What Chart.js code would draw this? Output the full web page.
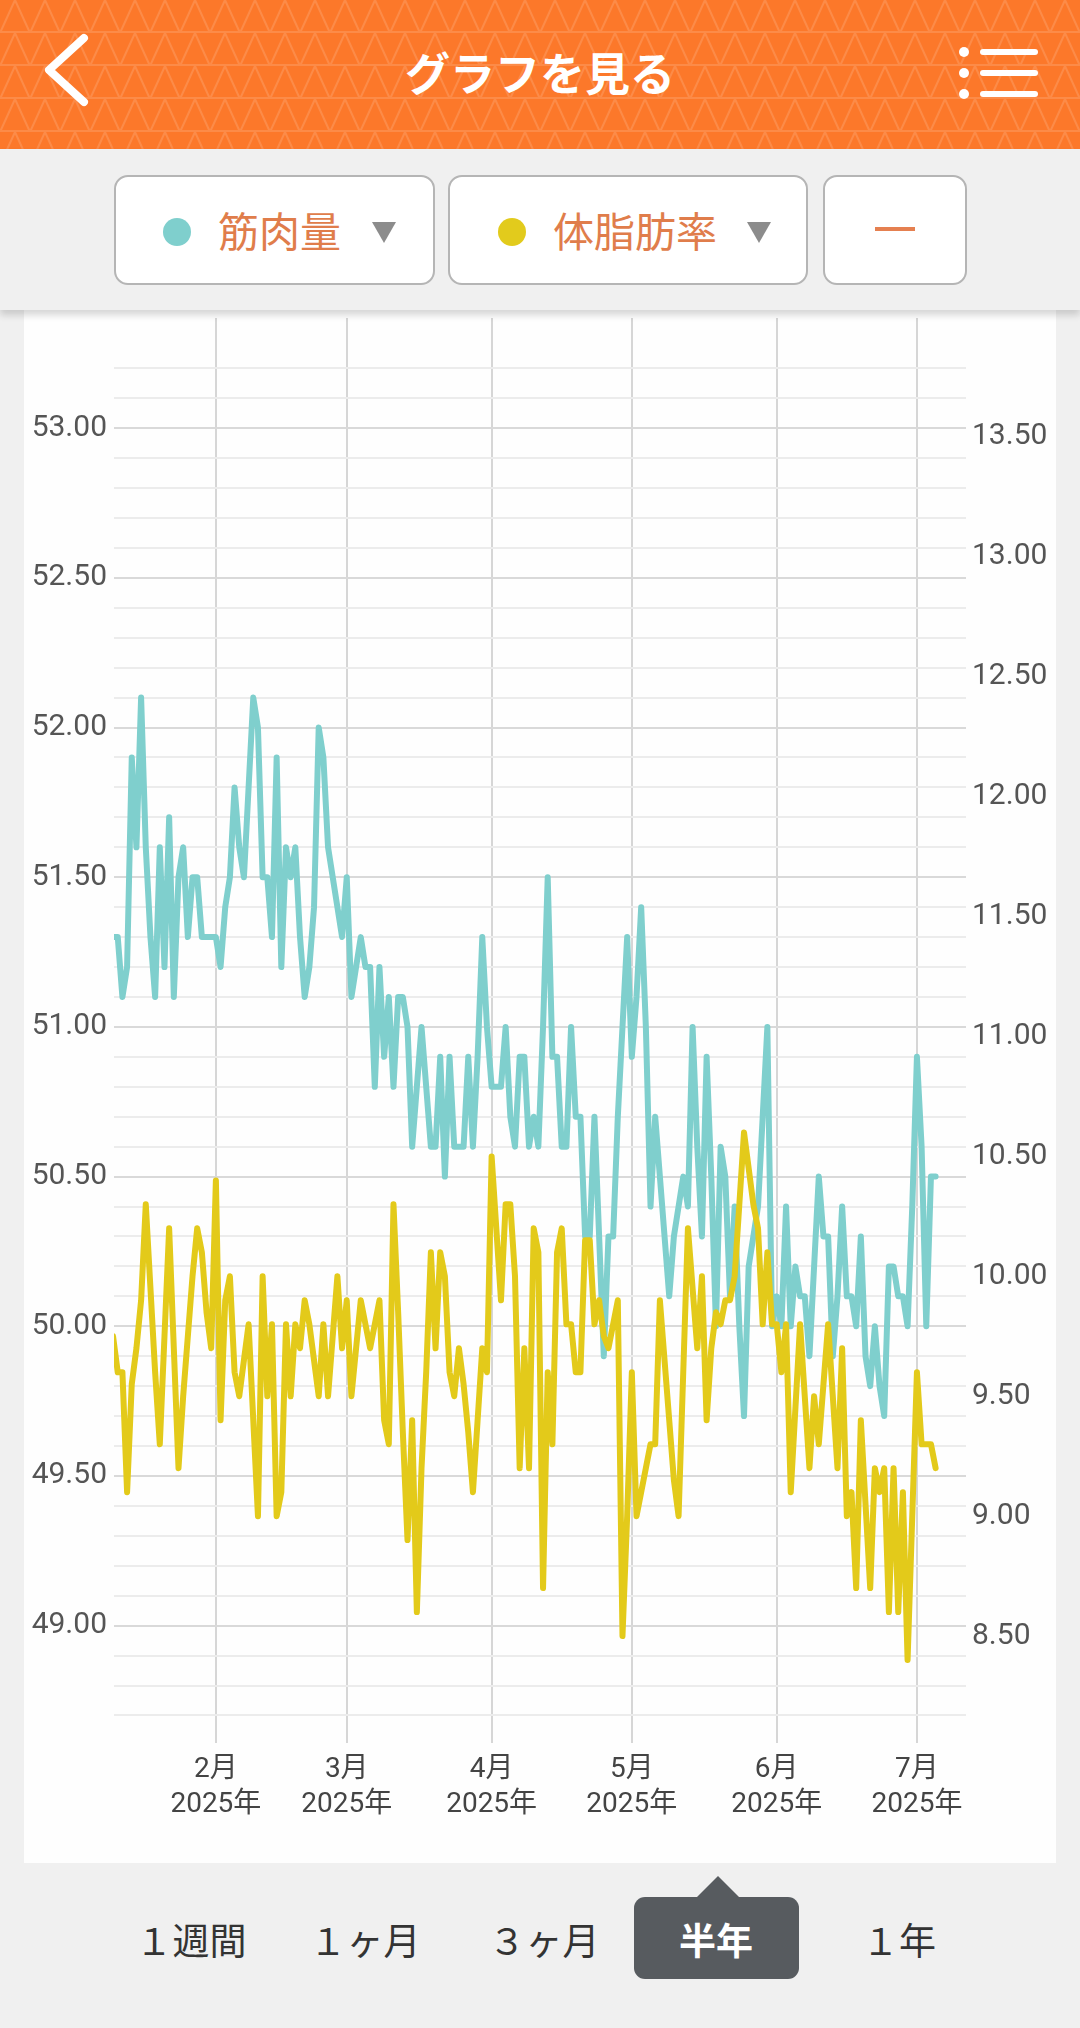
<!DOCTYPE html>
<html lang="ja">
<head>
<meta charset="utf-8">
<title>グラフを見る</title>
<script src="https://cdn.jsdelivr.net/npm/chart.js@4.4.1/dist/chart.umd.min.js"></script>
<style>
  html, body { margin: 0; padding: 0; }
  body {
    width: 1080px; height: 2028px; position: relative; overflow: hidden;
    background: #f0f0f0;
    font-family: "Noto Sans CJK JP", "Noto Sans", sans-serif;
  }
  .header {
    position: absolute; left: 0; top: 0; width: 1080px; height: 149px;
    background-color: #fc782a;
    background-image: url("data:image/svg+xml;utf8,<svg xmlns='http://www.w3.org/2000/svg' width='30' height='33'><path d='M0 33L15 0L30 33M0 32H30' fill='none' stroke='%23ffffff' stroke-opacity='0.14' stroke-width='2'/></svg>");
  }
  .title {
    position: absolute; left: 0; width: 1080px; top: 40px; text-align: center;
    color: #fff; font-size: 45px; font-weight: 700; line-height: 64px;
  }
  .back { position: absolute; left: 40px; top: 32px; }
  .menu { position: absolute; left: 955px; top: 44px; }
  .band {
    position: absolute; left: 0; top: 149px; width: 1080px; height: 161px;
    background: #f0f0f0; box-shadow: 0 5px 7px rgba(0,0,0,0.16); z-index: 2;
  }
  .btn {
    position: absolute; top: 175px; height: 110px; background: #fff;
    border: 2.5px solid #b5b5b5; border-radius: 14px; box-sizing: border-box; z-index: 3;
  }
  .dot { position: absolute; width: 28px; height: 28px; border-radius: 50%; top: 41px; }
  .lbl { position: absolute; top: 22px; font-size: 41px; line-height: 60px; color: #e07d4b; }
  .tri {
    position: absolute; top: 45px; width: 0; height: 0;
    border-left: 12px solid transparent; border-right: 12px solid transparent;
    border-top: 21px solid #8c8c8c;
  }
  .card {
    position: absolute; left: 24px; top: 310px; width: 1032px; height: 1553px; background: #fefefe;
  }
  #chart { position: absolute; left: 0; top: 0; }
  .tab {
    position: absolute; top: 1911px; font-size: 37px; line-height: 56px; color: #333;
    transform: translateX(-50%); white-space: nowrap;
  }
  .sel {
    position: absolute; left: 634px; top: 1897px; width: 165px; height: 82px;
    background: #575b5f; border-radius: 11px;
  }
  .pointer {
    position: absolute; left: 696px; top: 1876px; width: 0; height: 0;
    border-left: 22px solid transparent; border-right: 22px solid transparent;
    border-bottom: 22px solid #575b5f;
  }
</style>
</head>
<body>
<div class="header">
  <svg class="back" width="60" height="80" viewBox="0 0 60 80">
    <polyline points="44,6 9,38 44,70" fill="none" stroke="#fff" stroke-width="8" stroke-linecap="round" stroke-linejoin="round"/>
  </svg>
  <div class="title">グラフを見る</div>
  <svg class="menu" width="90" height="60" viewBox="0 0 90 60">
    <circle cx="9" cy="8" r="5" fill="#fff"/>
    <circle cx="9" cy="29" r="5" fill="#fff"/>
    <circle cx="9" cy="50" r="5" fill="#fff"/>
    <line x1="28" y1="8" x2="80" y2="8" stroke="#fff" stroke-width="6" stroke-linecap="round"/>
    <line x1="28" y1="29" x2="80" y2="29" stroke="#fff" stroke-width="6" stroke-linecap="round"/>
    <line x1="28" y1="50" x2="80" y2="50" stroke="#fff" stroke-width="6" stroke-linecap="round"/>
  </svg>
</div>
<div class="band"></div>
<div class="btn" style="left:114px;width:321px;">
  <div class="dot" style="left:47px;background:#7fcfcd;"></div>
  <div class="lbl" style="left:102px;">筋肉量</div>
  <div class="tri" style="left:256px;"></div>
</div>
<div class="btn" style="left:448px;width:360px;">
  <div class="dot" style="left:48px;background:#e2cb1c;"></div>
  <div class="lbl" style="left:103px;">体脂肪率</div>
  <div class="tri" style="left:297px;"></div>
</div>
<div class="btn" style="left:823px;width:144px;">
  <div style="position:absolute;left:50px;top:50px;width:40px;height:4px;background:#e58050;"></div>
</div>

<div class="card"><canvas id="chart" width="1032" height="1553"></canvas></div>

<div class="pointer"></div>
<div class="sel"></div>
<div class="tab" style="left:191px;">１週間</div>
<div class="tab" style="left:365px;">１ヶ月</div>
<div class="tab" style="left:544px;">３ヶ月</div>
<div class="tab" style="left:716px;color:#fff;font-weight:700;">半年</div>
<div class="tab" style="left:899px;">１年</div>

<script>
// day index of first reading (0 = Jan 1, 2025), one reading per day, null = no reading
const firstDay = 9;

const muscle = [
  51.3, 51.3, 51.1, 51.2, 51.9, 51.6, 52.1, 51.6, 51.3, 51.1,
  51.6, 51.2, 51.7, 51.1, 51.5, 51.6, 51.3, 51.5, 51.5, 51.3,
  51.3, 51.3, 51.3, 51.2, 51.4, 51.5, 51.8, 51.6, 51.5, 51.8,
  52.1, 52.0, 51.5, 51.5, 51.3, 51.9, 51.2, 51.6, 51.5, 51.6,
  51.3, 51.1, 51.2, 51.4, 52.0, 51.9, 51.6, 51.5, 51.4, 51.3,
  51.5, 51.1, 51.2, 51.3, 51.2, 51.2, 50.8, 51.2, 50.9, 51.1,
  50.8, 51.1, 51.1, 51.0, 50.6, 50.8, 51.0, 50.8, 50.6, 50.6,
  50.9, 50.5, 50.9, 50.6, 50.6, 50.6, 50.9, 50.6, 50.9, 51.3,
  51.0, 50.8, 50.8, 50.8, 51.0, 50.7, 50.6, 50.9, 50.9, 50.6,
  50.7, 50.6, 51.0, 51.5, 50.9, 50.9, 50.6, 50.6, 51.0, 50.7,
  50.7, 50.3, 50.3, 50.7, null, 49.9, 50.3, 50.3, 50.7, 51.0,
  51.3, 50.9, 51.1, 51.4, 51.0, 50.4, 50.7, 50.5, 50.3, 50.1,
  50.3, null, 50.5, 50.4, 51.0, 50.6, 50.3, 50.9, 50.5, 50.0,
  50.6, 50.5, 50.1, 50.4, 50.0, 49.7, 50.2, 50.3, 50.4, 50.7,
  51.0, 50.0, 50.1, 50.0, 50.4, 50.0, 50.2, 50.1, 50.1, 49.9,
  50.2, 50.5, 50.3, 50.3, 49.9, 50.1, 50.4, 50.1, 50.1, 50.0,
  50.3, 49.9, 49.8, 50.0, 49.8, 49.7, 50.2, 50.2, 50.1, 50.1,
  50.0, 50.4, 50.9, 50.6, 50.0, 50.5, 50.5
];

const fatRate = [
  9.75, 9.6, 9.6, 9.1, 9.55, 9.7, 9.9, 10.3, 9.95, 9.6,
  9.3, 9.75, 10.2, 9.7, 9.2, 9.5, 9.75, 10.0, 10.2, 10.1,
  9.85, 9.7, 10.4, 9.4, 9.9, 10.0, 9.6, 9.5, 9.65, 9.8,
  9.4, 9.0, 10.0, 9.5, 9.8, 9.0, 9.1, 9.8, 9.5, 9.8,
  9.7, 9.9, 9.8, 9.65, 9.5, 9.8, 9.5, 9.75, 10.0, 9.7,
  9.9, 9.5, 9.7, 9.9, 9.8, 9.7, 9.8, 9.9, 9.4, 9.3,
  10.3, 9.85, 9.35, 8.9, 9.4, 8.6, 9.2, 9.6, 10.1, 9.7,
  10.1, 10.0, 9.6, 9.5, 9.7, 9.55, 9.35, 9.1, 9.4, 9.7,
  9.6, 10.5, 10.2, 9.9, 10.3, 10.3, 10.0, 9.2, 9.7, 9.2,
  10.2, 10.1, 8.7, 9.6, 9.3, 10.1, 10.2, 9.8, 9.8, 9.6,
  9.6, 10.15, 10.15, 9.8, 9.9, 9.75, 9.7, 9.8, 9.9, 8.5,
  9.0, 9.6, 9.0, 9.1, 9.2, 9.3, 9.3, 9.9, 9.65, 9.4,
  9.15, 9.0, 9.6, 10.2, 9.95, 9.7, 10.0, 9.4, 9.7, 9.85,
  9.8, 9.9, 9.9, 10.0, 10.3, 10.6, 10.45, 10.3, 10.2, 9.8,
  10.1, 9.8, 9.8, 9.6, 9.8, 9.1, 9.45, 9.8, 9.5, 9.2,
  9.5, 9.3, 9.55, 9.8, 9.5, 9.2, 9.7, 9.0, 9.1, 8.7,
  9.4, 9.05, 8.7, 9.2, 9.1, 9.2, 8.6, 9.2, 8.6, 9.1,
  8.4, 9.0, 9.6, 9.3, 9.3, 9.3, 9.2
];

// x axis: month starts (day index) and their labels
const monthDays = [31, 59, 90, 120, 151, 181];
const monthLabels = ["2月", "3月", "4月", "5月", "6月", "7月"];
const yearLabel = "2025年";

// left axis: grid every 0.1 (in tenths), label every 0.5
const muscleGridTenths = [];
for (let k = 487; k <= 532; k++) muscleGridTenths.push(k);
// right axis labels
const fatTicks = [8.5, 9.0, 9.5, 10.0, 10.5, 11.0, 11.5, 12.0, 12.5, 13.0, 13.5];

const toPoints = arr => arr.map((v, i) => ({ x: firstDay + i, y: v }));

const tickFont = { family: "Roboto, 'Noto Sans CJK JP', sans-serif", size: 30 };

// keep the plot area where the reference has it: no extra room for end labels
const fixSide = scale => {
  scale.width = 90;
  scale.paddingTop = 0;
  scale.paddingBottom = 0;
};

const ctx = document.getElementById("chart").getContext("2d");
const chart = new Chart(ctx, {
  type: "line",
  data: {
    datasets: [
      {
        label: "体脂肪率",
        data: toPoints(fatRate),
        yAxisID: "y1",
        borderColor: "#e3ca1a",
        borderWidth: 6,
        pointRadius: 0,
        tension: 0,
        spanGaps: true,
        borderJoinStyle: "round",
        borderCapStyle: "round",
        order: 0
      },
      {
        label: "筋肉量",
        data: toPoints(muscle),
        yAxisID: "y",
        borderColor: "#7fcfcd",
        borderWidth: 6,
        pointRadius: 0,
        tension: 0,
        spanGaps: true,
        borderJoinStyle: "round",
        borderCapStyle: "round",
        order: 1
      }
    ]
  },
  options: {
    responsive: false,
    animation: false,
    devicePixelRatio: 1,
    layout: { padding: { top: 8, left: 0, right: 0, bottom: 0 } },
    plugins: { legend: { display: false }, tooltip: { enabled: false } },
    scales: {
      x: {
        type: "linear",
        min: 9.2,
        max: 191.5,
        afterBuildTicks: scale => { scale.ticks = monthDays.map(v => ({ value: v })); },
        afterFit: scale => { scale.height = 120; scale.paddingLeft = 0; scale.paddingRight = 0; },
        ticks: {
          autoSkip: false,
          maxRotation: 0,
          padding: 9,
          color: "#444",
          font: { family: "Roboto, 'Noto Sans CJK JP', sans-serif", size: 28, lineHeight: 1.25 },
          callback: (v, i) => [monthLabels[i], yearLabel]
        },
        grid: { color: "#d6d6d6", lineWidth: 2, drawTicks: false },
        border: { display: false }
      },
      y: {
        position: "left",
        min: 48.608,
        max: 53.368,
        afterBuildTicks: scale => { scale.ticks = muscleGridTenths.map(k => ({ value: k / 10 })); },
        afterFit: fixSide,
        ticks: {
          autoSkip: false,
          padding: 7,
          color: "#555",
          font: tickFont,
          callback: v => (Math.round(v * 10) % 5 === 0 ? v.toFixed(2) : "")
        },
        grid: {
          drawTicks: false,
          lineWidth: 2,
          color: c => (c.tick && Math.round(c.tick.value * 10) % 5 === 0 ? "#d9d9d9" : "#ececec")
        },
        border: { display: false }
      },
      y1: {
        position: "right",
        min: 8.054,
        max: 13.996,
        afterBuildTicks: scale => { scale.ticks = fatTicks.map(v => ({ value: v })); },
        afterFit: fixSide,
        ticks: {
          autoSkip: false,
          padding: 6,
          color: "#555",
          font: tickFont,
          callback: v => v.toFixed(2)
        },
        grid: { display: false, drawTicks: false },
        border: { display: false }
      }
    }
  }
});
</script>
</body>
</html>
